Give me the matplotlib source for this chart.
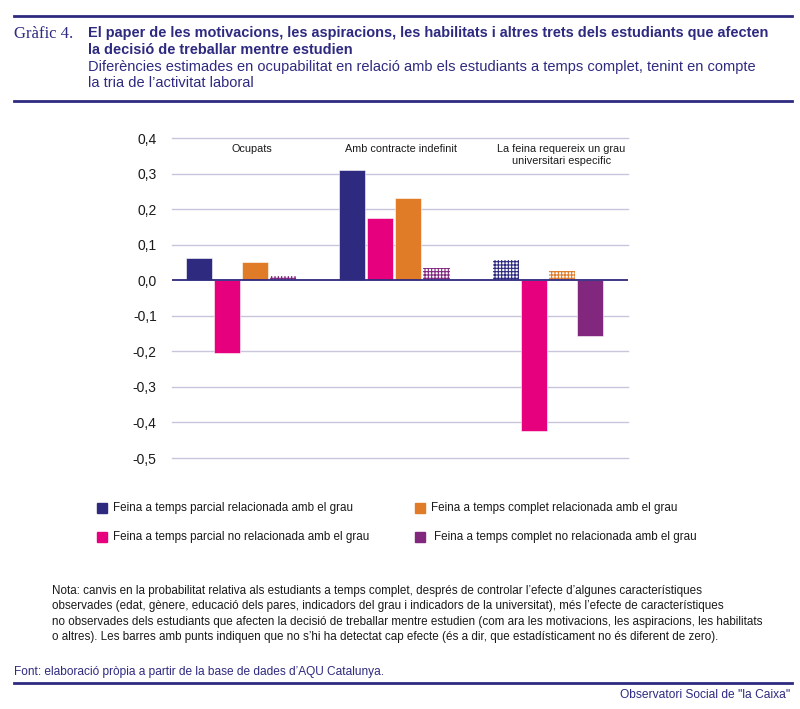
import matplotlib
matplotlib.use('Agg')
import matplotlib.pyplot as plt
import matplotlib.patches as patches
import numpy as np

plt.rcParams['font.family'] = ['Liberation Sans', 'DejaVu Sans']
plt.rcParams['hatch.linewidth'] = 0.8

categories = ['Ocupats', 'Amb contracte indefinit', 'La feina requereix un grau\nuniversitari especific']
seriesLabels = ['Feina a temps parcial relacionada amb el grau',
                'Feina a temps parcial no relacionada amb el grau',
                'Feina a temps complet relacionada amb el grau',
                'Feina a temps complet no relacionada amb el grau']
parcialRel = [0.063, 0.31, 0.056]
parcialNoRel = [-0.205, 0.175, -0.425]
completRel = [0.051, 0.23, 0.026]
completNoRel = [0.011, 0.033, -0.158]
# False = not significant (dotted bar)
parcialRelSig = [True, True, False]
parcialNoRelSig = [True, True, True]
completRelSig = [True, True, False]
completNoRelSig = [False, False, True]
yTicks = [0.4, 0.3, 0.2, 0.1, 0.0, -0.1, -0.2, -0.3, -0.4, -0.5]

navy = '#2e2a80'
colors = ['#2e2a80', '#e6007e', '#e07b28', '#82277e']
gridColor = '#c9c5dd'
textColor = '#1a1a1a'

allValues = [parcialRel, parcialNoRel, completRel, completNoRel]
allSig = [parcialRelSig, parcialNoRelSig, completRelSig, completNoRelSig]

W, H = 800, 709
fig = plt.figure(figsize=(W / 100, H / 100), dpi=100)
renderer = fig.canvas.get_renderer()


def fx(px):
    return px / W


def fy(py):
    return 1 - py / H


def fit_size(s, targetPx, **kw):
    # font size that makes s about targetPx wide (the original uses a condensed face)
    t = fig.text(0, 0, s, fontsize=10, **kw)
    w = t.get_window_extent(renderer).width
    t.remove()
    return 10 * targetPx / w


ax = fig.add_axes([fx(172), fy(458), fx(628) - fx(172), fy(138) - fy(458)])

x = np.arange(len(categories))
step = 0.183
width = 0.17
for k, (vals, sig) in enumerate(zip(allValues, allSig)):
    for i, v in enumerate(vals):
        xpos = x[i] + (k - 1.5) * step
        if sig[i]:
            ax.bar(xpos, v, width, color=colors[k], edgecolor='white', linewidth=0.4, zorder=3)
        else:
            ax.bar(xpos, v, width, facecolor='white', edgecolor=colors[k], hatch='+++++',
                   linewidth=0, zorder=3)

ax.set_xlim(-0.454, 2.526)
ax.set_ylim(-0.5, 0.4)
ax.set_yticks(yTicks)
ax.set_yticklabels([f'{t:.1f}'.replace('.', ',').replace('-0,0', '0,0') for t in yTicks],
                   fontsize=10, color=textColor)
ax.tick_params(axis='y', length=0, pad=11)
ax.set_xticks([])
for t in yTicks:
    if t != 0:
        ax.axhline(t, color=gridColor, linewidth=1, zorder=1, clip_on=False)
ax.axhline(0, color=navy, linewidth=1.3, zorder=4)
for s in ax.spines.values():
    s.set_visible(False)

catSize = fit_size(categories[1], 111)
labelOffsets = [0.07, 0.04, 0.09]
for i, cat in enumerate(categories):
    ax.text(x[i] + labelOffsets[i], 0.383, cat, ha='center', va='top', fontsize=catSize,
            color=textColor, linespacing=1.3)

# legend drawn by hand
legSize = fit_size(seriesLabels[0], 239)
legendPos = [(97, 508), (97, 537), (415, 508), (415, 537)]
for k, label in enumerate(seriesLabels):
    px, py = legendPos[k]
    fig.patches.append(patches.Rectangle((fx(px), fy(py + 5)), 10 / W, 10 / H,
                                         transform=fig.transFigure, color=colors[k]))
    fig.text(fx(px + 16 + (3 if k == 3 else 0)), fy(py), label, fontsize=legSize,
             va='center', color=textColor)

# header
for ry in [16, 101]:
    fig.add_artist(plt.Line2D([fx(14), fx(792)], [fy(ry), fy(ry)], color=navy, linewidth=2))
fig.text(fx(14), fy(34), 'Gràfic 4.', fontsize=12, family='Liberation Serif',
         color=navy, va='center')
titleLines = ['El paper de les motivacions, les aspiracions, les habilitats i altres trets dels estudiants que afecten',
              'la decisió de treballar mentre estudien']
subLines = ['Diferències estimades en ocupabilitat en relació amb els estudiants a temps complet, tenint en compte',
            'la tria de l’activitat laboral']
titleSize = fit_size(titleLines[0], 680, fontweight='bold')
subSize = fit_size(subLines[0], 668)
for j, line in enumerate(titleLines):
    fig.text(fx(88), fy(33 + j * 16.5), line, fontsize=titleSize, fontweight='bold',
             color=navy, va='center')
for j, line in enumerate(subLines):
    fig.text(fx(88), fy(66.5 + j * 16.5), line, fontsize=subSize, color=navy, va='center')

# note
noteLines = ['Nota: canvis en la probabilitat relativa als estudiants a temps complet, després de controlar l’efecte d’algunes característiques',
             'observades (edat, gènere, educació dels pares, indicadors del grau i indicadors de la universitat), més l’efecte de característiques',
             'no observades dels estudiants que afecten la decisió de treballar mentre estudien (com ara les motivacions, les aspiracions, les habilitats',
             'o altres). Les barres amb punts indiquen que no s’hi ha detectat cap efecte (és a dir, que estadísticament no és diferent de zero).']
noteSize = fit_size(noteLines[2], 706)
for j, line in enumerate(noteLines):
    fig.text(fx(52), fy(591 + j * 15.3), line, fontsize=noteSize, color=textColor, va='center')

# footer
sourceText = 'Font: elaboració pròpia a partir de la base de dades d’AQU Catalunya.'
fig.text(fx(14), fy(672), sourceText, fontsize=fit_size(sourceText, 370),
         color=navy, va='center')
fig.add_artist(plt.Line2D([fx(14), fx(792)], [fy(683), fy(683)], color=navy, linewidth=2))
brandText = 'Observatori Social de "la Caixa"'
fig.text(fx(790), fy(695), brandText, fontsize=fit_size(brandText, 170),
         color=navy, va='center', ha='right')

fig.savefig('out.png', dpi=100)
